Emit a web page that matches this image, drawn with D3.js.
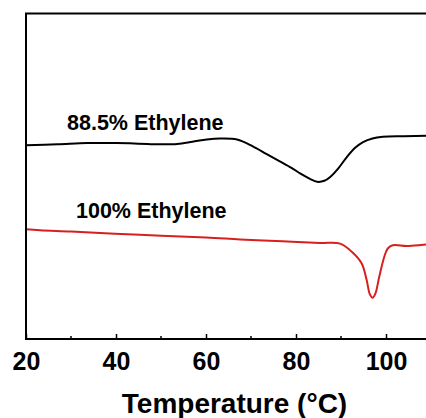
<!DOCTYPE html>
<html>
<head>
<meta charset="utf-8">
<script src="https://cdn.jsdelivr.net/npm/d3@7"></script>
<style>
  body { margin: 0; background: #fff; }
  svg { display: block; font-family: Arial, "Liberation Sans", sans-serif; }
</style>
</head>
<body>
<div id="chart"></div>
<script>
// temperatures (°C) and heat flow (a.u., endo down)
const tempsA = [20, 27, 33.6, 40, 43.1, 47, 49.8, 53.6, 57, 60.2, 63.1, 66.9, 70.4, 73.5, 76.4, 79, 81, 83, 84.7, 86.3, 87.6, 89.5, 91.3, 93.2, 94.9, 97, 99.3, 104, 110];
const flowA  = [59.5, 59.8, 60.2, 60.2, 60.1, 59.9, 59.8, 59.9, 60.6, 61.3, 61.6, 61.3, 59.2, 56.8, 54.6, 52.6, 50.8, 49.3, 48.3, 48.6, 49.8, 52.6, 55.9, 58.8, 60.5, 61.6, 62.1, 62.3, 62.5];

const tempsB = [20, 23.1, 30, 45.3, 60, 67.6, 77, 85.3, 89.8, 92.4, 94.6, 95.7, 96.4, 97.0, 97.6, 98.5, 99.6, 100.4, 101.5, 104.6, 108.9, 110];
const flowB  = [33.7, 33.4, 33.0, 32.0, 31.2, 30.6, 30.0, 29.5, 29.3, 26.8, 23.2, 18.1, 13.8, 12.7, 13.8, 19.1, 25.2, 27.8, 28.8, 28.6, 29.0, 29.0];

const seriesNames = ["88.5% Ethylene", "100% Ethylene"];
const xTicks = [20, 40, 60, 80, 100];
const xMinor = [30, 50, 70, 90, 110];

const w = 426, h = 418;
const padLeft = 26, padTop = 13.5, padBottom = 339, padRight = 431;

const svg = d3.select('#chart').append('svg')
  .attr('width', w)
  .attr('height', h);

const xScale = d3.scaleLinear().domain([20, 110]).range([padLeft, padRight]);
const yScale = d3.scaleLinear().domain([0, 100]).range([padBottom, padTop]);

const line = d3.line()
  .x(d => xScale(d[0]))
  .y(d => yScale(d[1]))
  .curve(d3.curveCatmullRom.alpha(0.5));

const seriesA = tempsA.map((t, i) => [t, flowA[i]]);
const seriesB = tempsB.map((t, i) => [t, flowB[i]]);

svg.append('path')
  .datum(seriesA)
  .attr('d', line)
  .attr('fill', 'none')
  .attr('stroke', '#000')
  .attr('stroke-width', 2);

svg.append('path')
  .datum(seriesB)
  .attr('d', line)
  .attr('fill', 'none')
  .attr('stroke', '#d81e1e')
  .attr('stroke-width', 2);

// frame
svg.append('rect')
  .attr('x', padLeft)
  .attr('y', padTop)
  .attr('width', padRight - padLeft)
  .attr('height', padBottom - padTop)
  .attr('fill', 'none')
  .attr('stroke', '#000')
  .attr('stroke-width', 2);

// bottom axis, ticks pointing inward
const xAxis = d3.axisBottom(xScale)
  .tickValues(xTicks)
  .tickSizeInner(-5)
  .tickSizeOuter(0)
  .tickPadding(13);

const gx = svg.append('g')
  .attr('transform', `translate(0, ${padBottom})`)
  .call(xAxis);
gx.select('.domain').remove();
gx.selectAll('line').attr('stroke-width', 1.5);
gx.selectAll('text')
  .attr('font-size', 25)
  .attr('font-weight', 'bold')
  .attr('fill', '#000')
  .attr('font-family', 'Arial, "Liberation Sans", sans-serif');

svg.append('g')
  .selectAll('line')
  .data(xMinor)
  .enter()
  .append('line')
  .attr('x1', d => xScale(d))
  .attr('x2', d => xScale(d))
  .attr('y1', padBottom)
  .attr('y2', padBottom - 3)
  .attr('stroke', '#000')
  .attr('stroke-width', 1.5);

svg.append('text')
  .attr('x', 234.5)
  .attr('y', 413)
  .attr('text-anchor', 'middle')
  .attr('font-size', 28)
  .attr('font-weight', 'bold')
  .text('Temperature (°C)');

// series labels
svg.append('text')
  .attr('x', 67)
  .attr('y', 130)
  .attr('font-size', 21.5)
  .attr('font-weight', 'bold')
  .text(seriesNames[0]);

svg.append('text')
  .attr('x', 76)
  .attr('y', 218)
  .attr('font-size', 21.5)
  .attr('font-weight', 'bold')
  .text(seriesNames[1]);
</script>
</body>
</html>
